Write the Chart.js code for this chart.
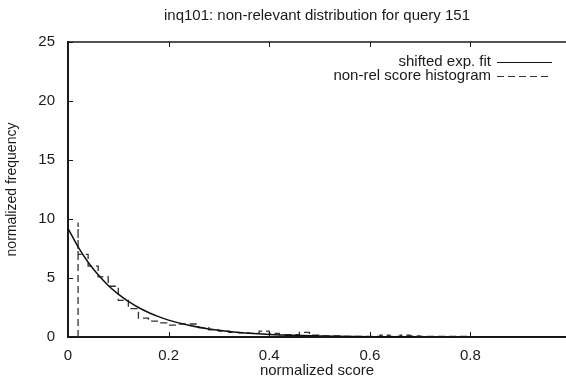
<!DOCTYPE html>
<html>
<head>
<meta charset="utf-8">
<script src="https://cdn.jsdelivr.net/npm/chart.js@4/dist/chart.umd.min.js"></script>
<style>
  html, body { margin: 0; padding: 0; background: #fff; }
  #wrap { width: 566px; height: 382px; }
</style>
</head>
<body>
<div id="wrap"><canvas id="chart"></canvas></div>
<script>
// Non-relevant score distribution (inq101, query 151) with its shifted exponential fit.
const TITLE = 'inq101: non-relevant distribution for query 151';
const X_TITLE = 'normalized score';
const Y_TITLE = 'normalized frequency';
const X_TICKS = [0, 0.2, 0.4, 0.6, 0.8];
const Y_TICKS = [0, 5, 10, 15, 20, 25];
const LEGEND_FIT = 'shifted exp. fit';
const LEGEND_HIST = 'non-rel score histogram';

// histogram bins: edges has one more entry than heights
const binEdges = [0.02, 0.04, 0.06, 0.08, 0.10, 0.12, 0.14, 0.16, 0.18, 0.20,
  0.22, 0.24, 0.26, 0.28, 0.30, 0.32, 0.34, 0.36, 0.38, 0.40,
  0.42, 0.44, 0.46, 0.48, 0.50, 0.52, 0.54, 0.56, 0.58, 0.60,
  0.62, 0.64, 0.66, 0.68, 0.70, 0.72, 0.74, 0.76, 0.78, 0.80, 0.82];
const binHeights = [9.7, 7.0, 6.0, 5.1, 4.3, 3.1, 2.4, 1.6, 1.35, 1.2,
  1.0, 1.1, 1.1, 0.8, 0.6, 0.5, 0.4, 0.35, 0.3, 0.5,
  0.3, 0.2, 0.2, 0.4, 0.15, 0.1, 0.1, 0.05, 0.05, 0.05,
  0.05, 0.15, 0.05, 0.15, 0.1, 0.05, 0.05, 0.05, 0.05, 0.05];

// samples of the fitted curve
const fitX = [0, 0.02, 0.04, 0.06, 0.08, 0.10, 0.12, 0.14, 0.16, 0.18, 0.20,
  0.24, 0.28, 0.32, 0.36, 0.40, 0.45, 0.50, 0.60, 0.70, 0.80, 0.90, 0.99];
const fitY = [9.2, 7.64, 6.34, 5.27, 4.37, 3.63, 3.01, 2.50, 2.08, 1.73, 1.43,
  0.99, 0.68, 0.47, 0.32, 0.22, 0.14, 0.09, 0.03, 0.01, 0.005, 0.002, 0];

const FONT = '"Liberation Sans", Arial, sans-serif';
const INK = '#1a1a1a';
const FS = 15;

const histPoints = [{ x: binEdges[0], y: 0 }];
binHeights.forEach((h, i) => histPoints.push({ x: binEdges[i], y: h }));
histPoints.push({ x: binEdges[binEdges.length - 1], y: 0 });

const fitPoints = fitX.map((x, i) => ({ x, y: fitY[i] }));

const frame = {
  id: 'frame',
  afterDraw(chart) {
    const ctx = chart.ctx;
    const ca = chart.chartArea;
    const xs = chart.scales.x, ys = chart.scales.y;
    ctx.save();
    ctx.strokeStyle = INK;

    // top border
    ctx.lineWidth = 1.5;
    ctx.beginPath();
    ctx.moveTo(ca.left, ca.top);
    ctx.lineTo(ca.right, ca.top);
    ctx.stroke();

    // inward tick marks, gnuplot style
    ctx.lineWidth = 1;
    X_TICKS.concat([1]).forEach(v => {
      const px = Math.round(xs.getPixelForValue(v)) + 0.5;
      ctx.beginPath();
      ctx.moveTo(px, ca.bottom); ctx.lineTo(px, ca.bottom - 5);
      ctx.moveTo(px, ca.top); ctx.lineTo(px, ca.top + 5);
      ctx.stroke();
    });
    Y_TICKS.forEach(v => {
      const py = Math.round(ys.getPixelForValue(v)) + 0.5;
      ctx.beginPath();
      ctx.moveTo(ca.left, py); ctx.lineTo(ca.left + 5, py);
      ctx.stroke();
    });

    // key in the upper right: text then line sample
    ctx.font = FS + 'px ' + FONT;
    ctx.fillStyle = INK;
    ctx.textAlign = 'right';
    ctx.textBaseline = 'middle';
    const textRight = ca.right - 75;
    const sx0 = ca.right - 69, sx1 = ca.right - 14;
    chart.data.datasets.forEach((ds, i) => {
      const y = ca.top + 20 + i * 14;
      ctx.fillText(ds.label, textRight, y);
      ctx.strokeStyle = ds.borderColor;
      ctx.lineWidth = 1.2;
      ctx.setLineDash(ds.borderDash || []);
      ctx.beginPath();
      ctx.moveTo(sx0, y + 0.5); ctx.lineTo(sx1, y + 0.5);
      ctx.stroke();
    });
    ctx.restore();
  }
};

new Chart(document.getElementById('chart'), {
  type: 'line',
  data: {
    datasets: [
      {
        label: LEGEND_FIT,
        data: fitPoints,
        borderColor: '#111111',
        borderWidth: 1.5,
        pointRadius: 0,
        fill: false,
        cubicInterpolationMode: 'monotone',
      },
      {
        label: LEGEND_HIST,
        data: histPoints,
        borderColor: '#333333',
        borderWidth: 1.3,
        borderDash: [7, 4],
        pointRadius: 0,
        fill: false,
        stepped: 'after',
      },
    ],
  },
  options: {
    responsive: true,
    maintainAspectRatio: false,
    animation: false,
    layout: { padding: { left: 4, right: 0, top: 0, bottom: 2 } },
    plugins: {
      legend: { display: false },
      tooltip: { enabled: false },
      title: {
        display: true,
        fullSize: false,
        text: TITLE,
        color: INK,
        font: { family: FONT, size: FS, weight: 'normal', lineHeight: 1.1 },
        padding: { top: 8, bottom: 17.5 },
      },
    },
    scales: {
      x: {
        type: 'linear',
        min: 0, max: 0.99,
        afterBuildTicks: s => { s.ticks = X_TICKS.map(value => ({ value })); },
        afterFit: s => { s.height = 43; },
        grid: { display: false },
        border: { display: true, color: INK, width: 2 },
        ticks: {
          color: INK,
          padding: 2,
          font: { family: FONT, size: FS },
          maxRotation: 0,
          callback: v => (v === 0 ? '0' : v.toFixed(1)),
        },
        title: {
          display: true, text: X_TITLE, color: INK,
          font: { family: FONT, size: FS },
          padding: { top: 2, bottom: 0 },
        },
      },
      y: {
        min: 0, max: 25,
        afterBuildTicks: s => { s.ticks = Y_TICKS.map(value => ({ value })); },
        afterFit: s => { s.width = 64; },
        grid: { display: false },
        border: { display: true, color: INK, width: 2 },
        ticks: {
          color: INK,
          padding: 5,
          font: { family: FONT, size: FS },
        },
        title: {
          display: true, text: Y_TITLE, color: INK,
          font: { family: FONT, size: FS - 1 },
          padding: { top: 0, bottom: 0 },
        },
      },
    },
  },
  plugins: [frame],
});
</script>
</body>
</html>
